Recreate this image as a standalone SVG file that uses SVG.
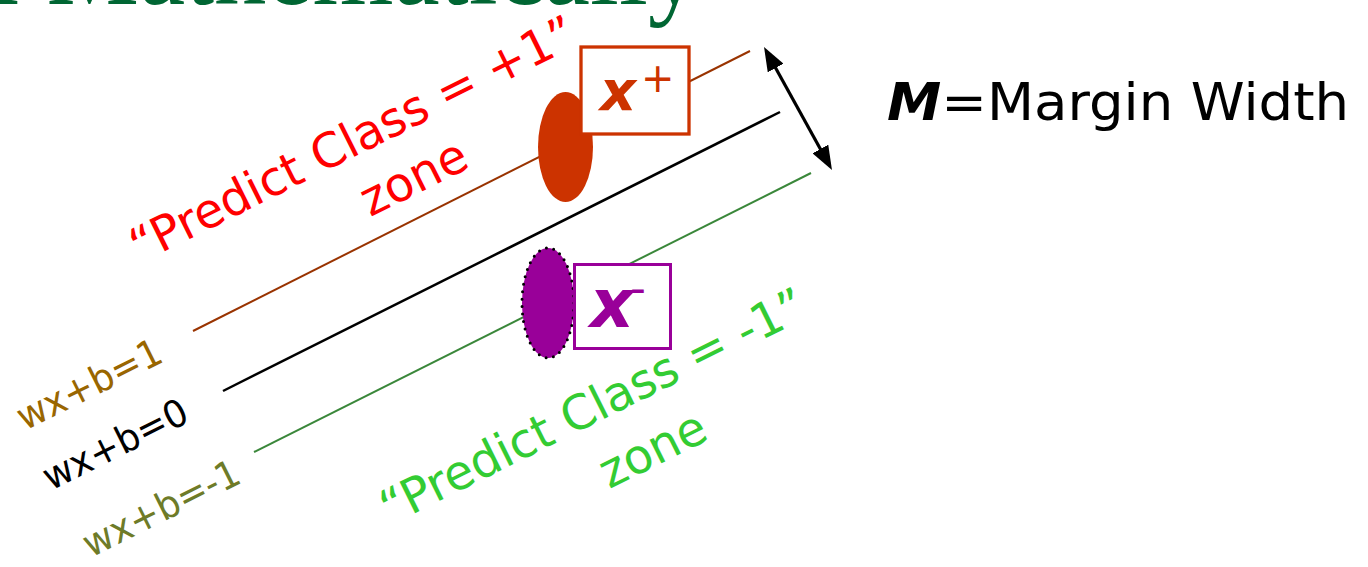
<svg xmlns="http://www.w3.org/2000/svg" width="1368" height="567" viewBox="0 0 1368 567">
<defs>
<style>
.sans{font-family:"DejaVu Sans","Verdana",sans-serif;}
.lbl{font-size:48px;text-anchor:middle;}
.eq{font-size:38px;text-anchor:middle;}
.bi{font-weight:bold;font-style:italic;}
</style>
<marker id="ah" viewBox="0 0 24 18" refX="16" refY="9" markerWidth="24" markerHeight="18" markerUnits="userSpaceOnUse" orient="auto-start-reverse">
<path d="M0,0 L24,9 L0,18 z" fill="#000"/>
</marker>
</defs>
<rect width="1368" height="567" fill="#fff"/>
<g id="title">
<text transform="translate(700,4) scale(0.93,1)" font-family="'Liberation Serif','Times New Roman',serif" font-size="112" fill="#006633" text-anchor="end">Linear SVM Mathematically</text>
</g>
<g id="hyperplanes">
<line x1="193" y1="331" x2="750" y2="51" stroke="#993300" stroke-width="2"/>
<line x1="223" y1="391" x2="780" y2="112" stroke="#000" stroke-width="2.5"/>
<line x1="254" y1="452" x2="811" y2="173" stroke="#3a873a" stroke-width="2"/>
</g>
<g id="connectors">
<line x1="767.9" y1="54" x2="828.1" y2="163" stroke="#000" stroke-width="3.2" marker-start="url(#ah)" marker-end="url(#ah)"/>
</g>
<g id="xplus">
<ellipse cx="565.5" cy="147" rx="27.5" ry="55" fill="#cc3300"/>
<rect x="581" y="47" width="108" height="87" fill="#fff" stroke="#cc3300" stroke-width="3.3"/>
<text x="600" y="110" class="sans" fill="#cc3300"><tspan class="bi" font-size="56">x</tspan><tspan x="641" y="92" font-size="40">+</tspan></text>
</g>
<g id="xminus">
<ellipse cx="548" cy="303" rx="26" ry="55" fill="#990099" stroke="#000" stroke-width="3" stroke-dasharray="0 7.5" stroke-linecap="round"/>
<rect x="574.5" y="264.5" width="96" height="84" fill="#fff" stroke="#990099" stroke-width="3"/>
<text x="590" y="327" class="sans" fill="#990099"><tspan class="bi" font-size="68">x</tspan><tspan x="630" y="303" font-size="44">-</tspan></text>
</g>
<g id="margin-label">
<text transform="translate(887,120) scale(1.07,1)" class="sans" font-size="51" fill="#000"><tspan class="bi">M</tspan>=Margin Width</text>
</g>
<g id="plus-zone">
<text transform="translate(360,154) rotate(-26.5) scale(0.99,1)" class="sans lbl" fill="#ff0000">“Predict Class = +1”</text>
<text transform="translate(421,192) rotate(-26.5) scale(0.99,1)" class="sans lbl" fill="#ff0000">zone</text>
</g>
<g id="minus-zone">
<text transform="translate(600,421) rotate(-26.5) scale(0.99,1)" class="sans lbl" fill="#33cc33">“Predict Class = -1”</text>
<text transform="translate(660,464) rotate(-26.5) scale(0.99,1)" class="sans lbl" fill="#33cc33">zone</text>
</g>
<g id="eq-labels">
<text transform="translate(95,396) rotate(-26.5) scale(0.95,1)" class="sans eq" fill="#996600">wx+b=1</text>
<text transform="translate(121,456) rotate(-26.5) scale(0.95,1)" class="sans eq" fill="#000">wx+b=0</text>
<text transform="translate(167,520) rotate(-26.5) scale(0.95,1)" class="sans eq" fill="#6e7b28">wx+b=-1</text>
</g>
</svg>
